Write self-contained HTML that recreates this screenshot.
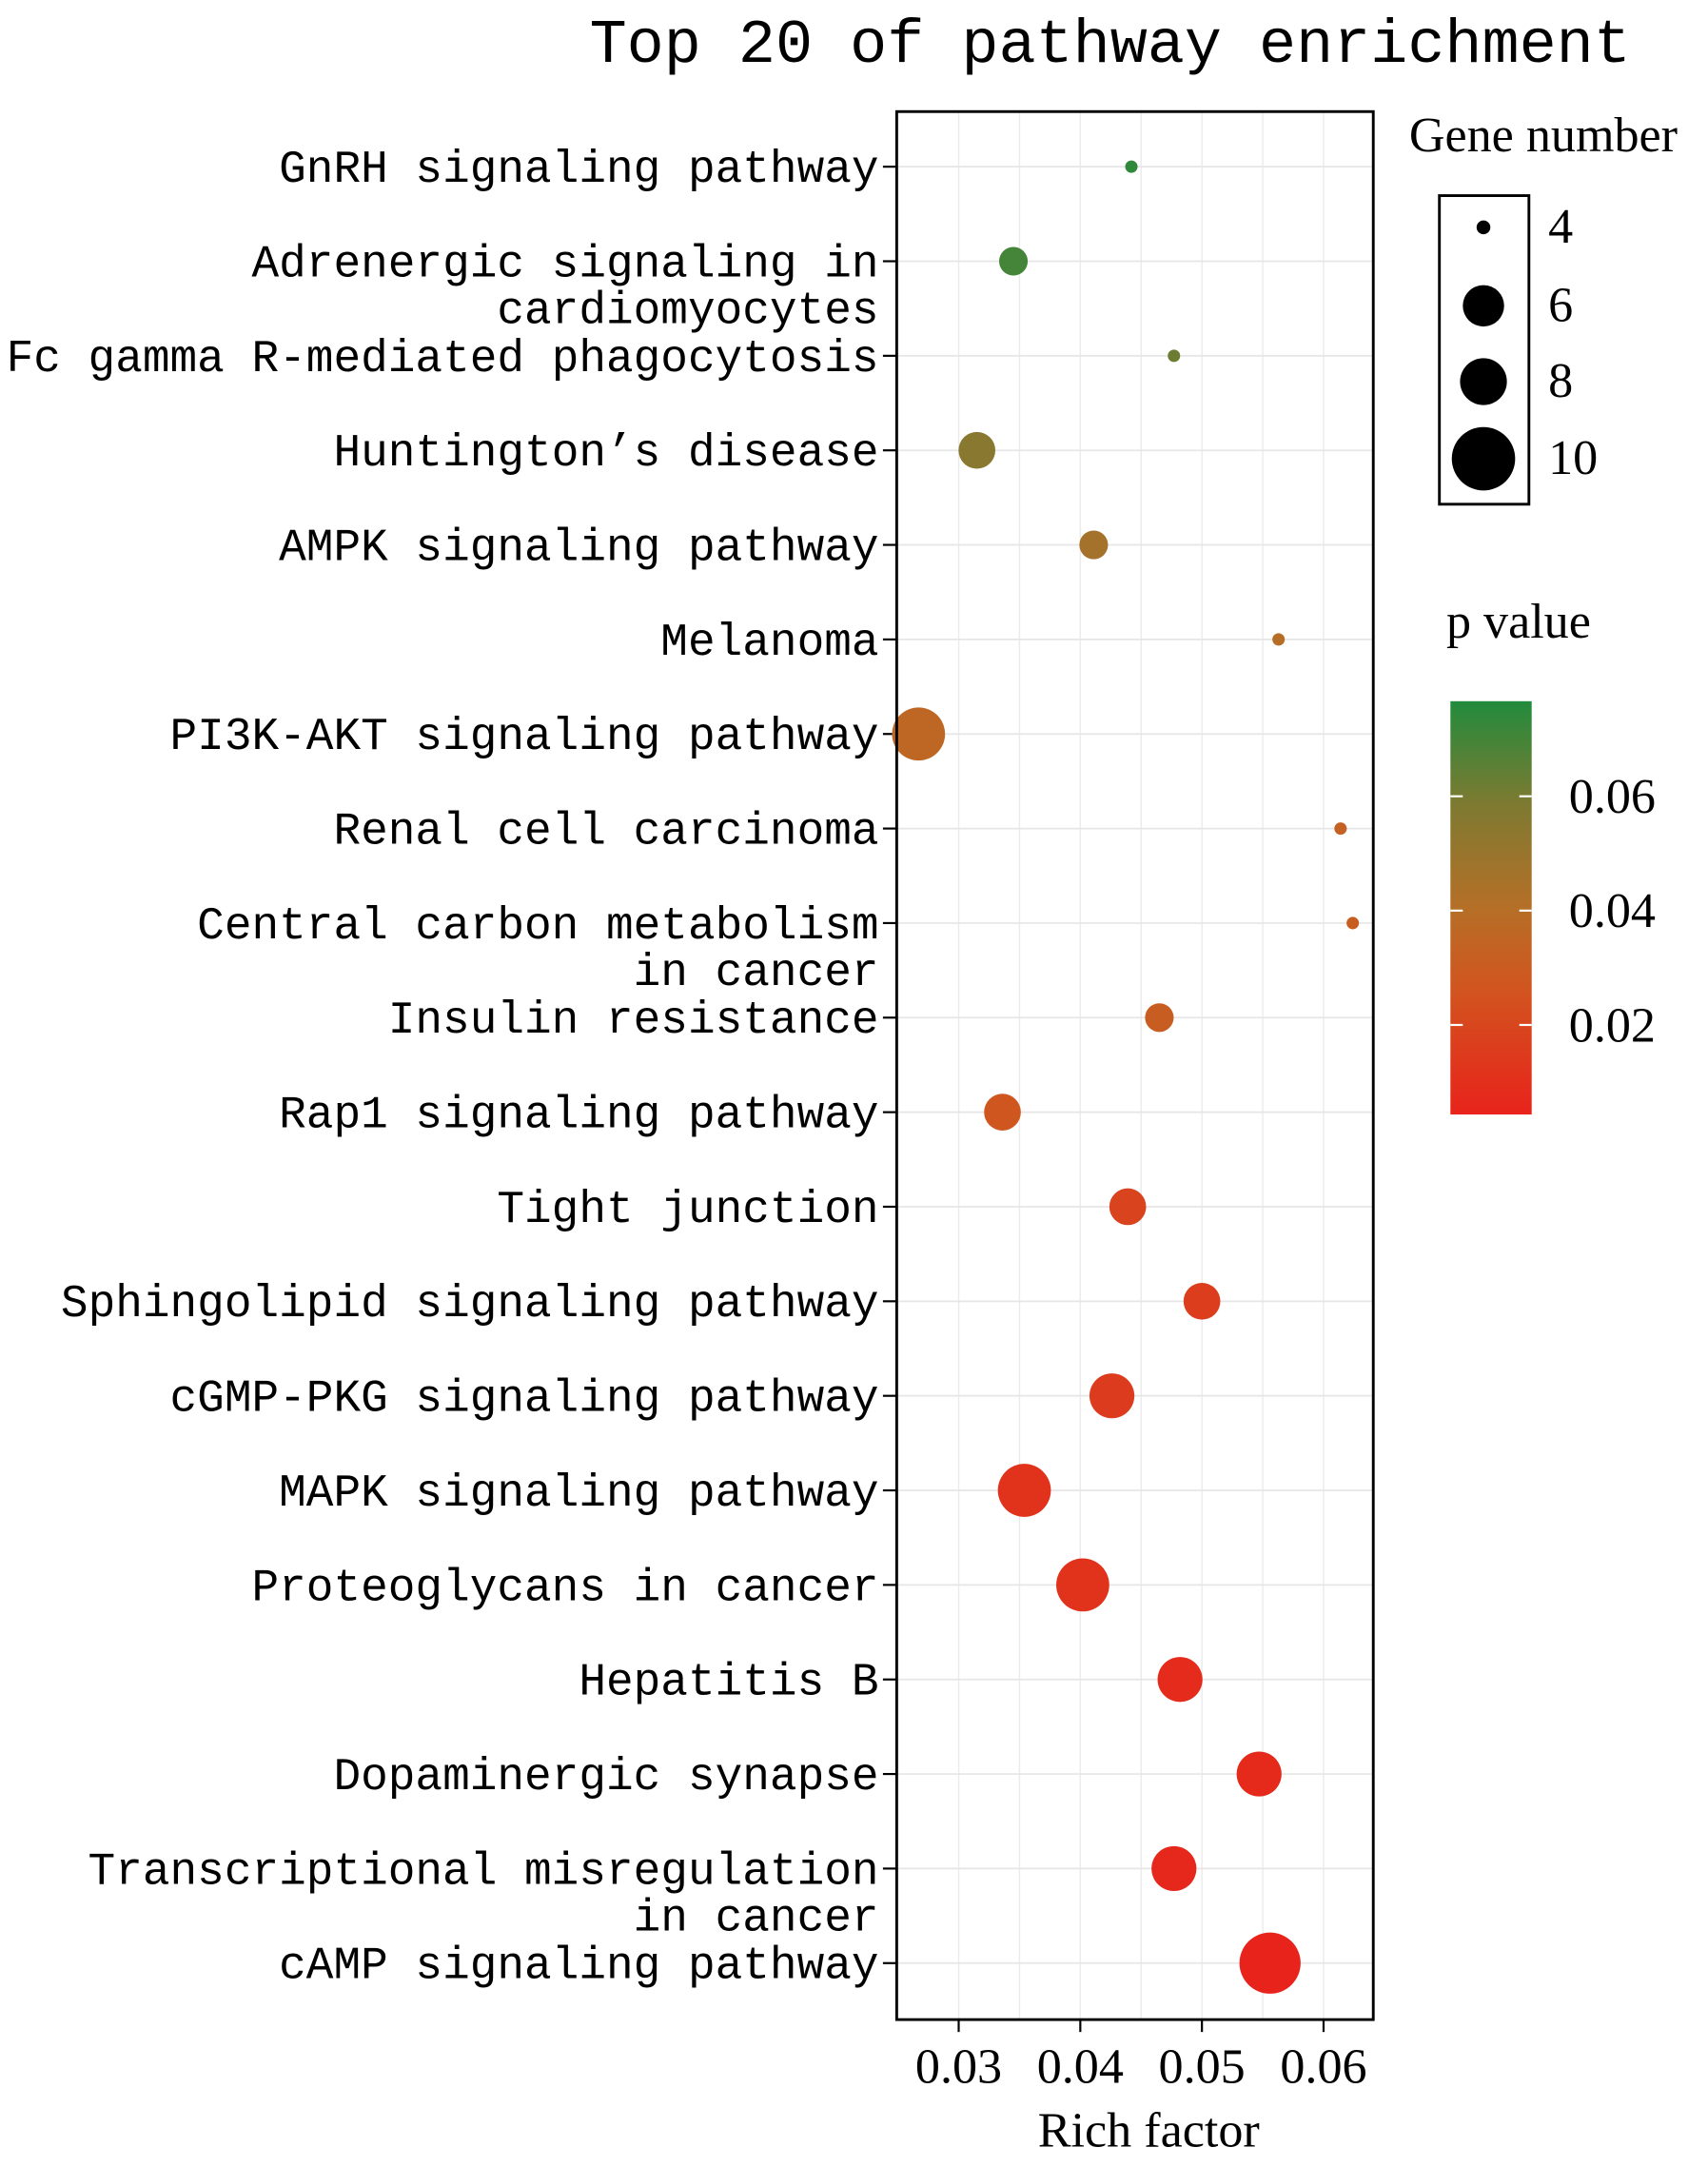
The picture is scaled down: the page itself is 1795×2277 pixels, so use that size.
<!DOCTYPE html>
<html><head><meta charset="utf-8"><style>
html,body{margin:0;padding:0;background:#fff;}
svg{display:block;}
</style></head><body>
<svg id="chart" width="1795" height="2277" viewBox="0 0 1240 1573" xmlns="http://www.w3.org/2000/svg">
<defs>
<linearGradient id="pgrad" x1="0" y1="1" x2="0" y2="0">
<stop offset="0" stop-color="#e8231b"/>
<stop offset="0.3" stop-color="#d2541f"/>
<stop offset="0.5" stop-color="#b56f27"/>
<stop offset="0.75" stop-color="#7e7a31"/>
<stop offset="1" stop-color="#228b3d"/>
</linearGradient>
</defs>
<text x="428" y="45" font-family="Liberation Mono, monospace" font-size="45" fill="#000">Top 20 of pathway enrichment</text>
<g id="grid"></g>
<g id="ylabels"></g>
<g id="points"></g>
<rect x="651" y="81" width="346" height="1385" fill="none" stroke="#000" stroke-width="2"/>
<g id="xaxis"></g>
<text x="834" y="1558" text-anchor="middle" font-family="Liberation Serif, serif" font-size="36">Rich factor</text>
<g id="legend-size">
<text x="1023" y="110" font-family="Liberation Serif, serif" font-size="36">Gene number</text>
<rect x="1045" y="142" width="65" height="224" fill="none" stroke="#000" stroke-width="2"/>
</g>
<g id="legend-color">
<text x="1050" y="463" font-family="Liberation Serif, serif" font-size="36">p value</text>
<rect x="1053" y="509" width="59" height="300" fill="url(#pgrad)"/>
</g>
</svg>
<script>
const categories = ["GnRH signaling pathway","Adrenergic signaling in|cardiomyocytes","Fc gamma R-mediated phagocytosis","Huntington\u2019s disease","AMPK signaling pathway","Melanoma","PI3K-AKT signaling pathway","Renal cell carcinoma","Central carbon metabolism|in cancer","Insulin resistance","Rap1 signaling pathway","Tight junction","Sphingolipid signaling pathway","cGMP-PKG signaling pathway","MAPK signaling pathway","Proteoglycans in cancer","Hepatitis B","Dopaminergic synapse","Transcriptional misregulation|in cancer","cAMP signaling pathway"];
const richFactor = [0.0442,0.0345,0.0477,0.0315,0.0411,0.0563,0.0267,0.0614,0.0624,0.0465,0.0336,0.0439,0.0500,0.0426,0.0354,0.0402,0.0482,0.0547,0.0477,0.0556];
const geneNumber = [4,6,4,7,6,4,9,4,4,6,7,7,7,8,9,9,8,8,8,10];
const pValue = [0.074,0.070,0.062,0.055,0.046,0.040,0.036,0.033,0.031,0.031,0.027,0.019,0.016,0.015,0.011,0.011,0.008,0.007,0.006,0.004];
const xTicks = [0.03,0.04,0.05,0.06];
const xTickLabels = ["0.03","0.04","0.05","0.06"];
const sizeLegendValues = [4,6,8,10];
const pTicks = [0.02,0.04,0.06];
const pTickLabels = ["0.02","0.04","0.06"];

const NS="http://www.w3.org/2000/svg";
function mk(tag, attrs, parent){const e=document.createElementNS(NS,tag);for(const k in attrs)e.setAttribute(k,attrs[k]);parent.appendChild(e);return e;}
const PL=651,PR=997,PT=81,PB=1466;
function xScale(v){return 696+(v-0.03)*8830;}
function yScale(i){return 121+i*(1425-121)/19;}
function rScale(n){return 4.5+(n-4)*2.95;}
function pY(p){return 578+(0.06-p)*4150;}
const stops=[[0.0043,[232,35,27]],[0.0043+0.3*0.0723,[210,84,31]],[0.0043+0.5*0.0723,[181,111,39]],[0.0043+0.75*0.0723,[126,122,49]],[0.0766,[34,139,61]]];
function pColor(p){
  if(p<=stops[0][0])return "rgb("+stops[0][1]+")";
  for(let i=1;i<stops.length;i++){if(p<=stops[i][0]){const t=(p-stops[i-1][0])/(stops[i][0]-stops[i-1][0]);const a=stops[i-1][1],b=stops[i][1];return "rgb("+a.map((c,j)=>Math.round(c+(b[j]-c)*t)).join(",")+")";}}
  return "rgb("+stops[stops.length-1][1]+")";
}
const grid=document.getElementById('grid');
for(let v=0.025;v<=0.0645;v+=0.005){
  const x=xScale(v);
  if(x<PL||x>PR)continue;
  const gl=mk('line',{x1:x,x2:x,y1:PT,y2:PB,stroke:'#ebebeb','stroke-width':1},grid);
  
  
}
const ylab=document.getElementById('ylabels');
categories.forEach((c,i)=>{
  const y=yScale(i);
  const hl=mk('line',{x1:PL,x2:PR,y1:y,y2:y,stroke:'#e6e6e6','stroke-width':1.2},grid);
  
  
  const tk=mk('line',{x1:641,x2:PL,y1:y,y2:y,stroke:'#000','stroke-width':1.5},ylab);
  
  
  const parts=c.split('|');
  parts.forEach((p,k)=>{
    const t=mk('text',{x:638,y:y+11+k*34,'text-anchor':'end','font-family':'Liberation Mono, monospace','font-size':33,'xml:space':'preserve'},ylab);
    t.textContent=p;
    
    
  });
});
const pts=document.getElementById('points');
richFactor.forEach((v,i)=>{
  const c=mk('circle',{cx:xScale(v),cy:yScale(i),r:rScale(geneNumber[i]),fill:pColor(pValue[i])},pts);
  
  
});
const xa=document.getElementById('xaxis');
xTicks.forEach((v,i)=>{
  const x=xScale(v);
  const t=mk('line',{x1:x,x2:x,y1:PB,y2:PB+9,stroke:'#000','stroke-width':1.5},xa);
  
  
  const l=mk('text',{x:x,y:1512,'text-anchor':'middle','font-family':'Liberation Serif, serif','font-size':36},xa);
  l.textContent=xTickLabels[i];
  
  
});
const ls=document.getElementById('legend-size');
const legY=[165,222,277,333],legR=[5,15,17,23];
sizeLegendValues.forEach((n,i)=>{
  const c=mk('circle',{cx:1077,cy:legY[i],r:legR[i],fill:'#000'},ls);
  
  
  const t=mk('text',{x:1124,y:legY[i]+11,'font-family':'Liberation Serif, serif','font-size':36},ls);
  t.textContent=String(n);
  
  
});
const lc=document.getElementById('legend-color');
pTicks.forEach((p,i)=>{
  const y=pY(p);
  const a=mk('line',{x1:1053,x2:1062,y1:y,y2:y,stroke:'#fff','stroke-width':1.5},lc);
  
  
  const b=mk('line',{x1:1103,x2:1112,y1:y,y2:y,stroke:'#fff','stroke-width':1.5},lc);
  
  
  const t=mk('text',{x:1139,y:y+12,'font-family':'Liberation Serif, serif','font-size':36},lc);
  t.textContent=pTickLabels[i];
  
  
});
</script>
</body></html>
